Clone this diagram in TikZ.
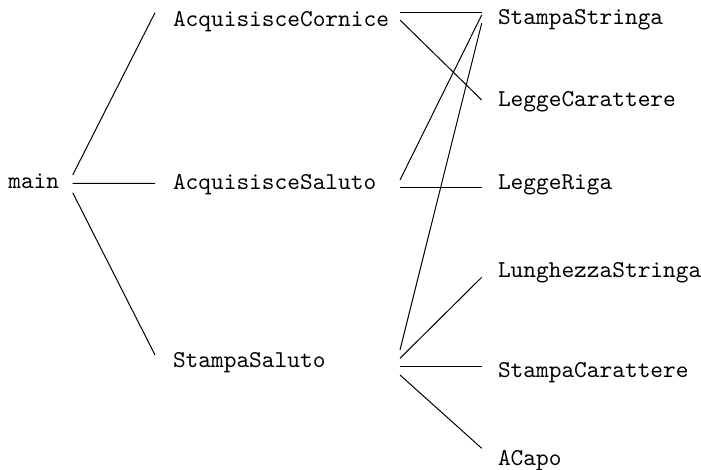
\documentclass[tikz,border=0pt]{standalone}
\usepackage{fontspec}
\usetikzlibrary{calc}
\newfontfamily\fnfont{lmmono10-regular.otf}
\begin{document}
\begin{tikzpicture}[x=0.5pt,y=-0.5pt,
  fn/.style={anchor=base west,inner sep=0pt,outer sep=0pt,
    font=\fontsize{12.1}{14}\fnfont},
  call/.style={line width=0.5pt,line cap=butt}]
\useasboundingbox (0,0) rectangle (701,470);

% functions, one column per call depth
\node[fn] (main)  at (8.3,189)   {main};
\node[fn] (acqc)  at (173,27)    {AcquisisceCornice};
\node[fn] (acqs)  at (173,189.4) {AcquisisceSaluto};
\node[fn] (stsal) at (173,367.7) {StampaSaluto};
\node[fn] (ststr) at (498,24.4)  {StampaStringa};
\node[fn] (lcar)  at (498,106.4) {LeggeCarattere};
\node[fn] (lriga) at (498,189.4) {LeggeRiga};
\node[fn] (lung)  at (498,278)   {LunghezzaStringa};
\node[fn] (stcar) at (498,377.7) {StampaCarattere};
\node[fn] (acapo) at (498,465)   {ACapo};

% calls made by main
\draw[call] ($(main.base west)+(64.4,-14)$)  -- ($(acqc.base west)+(-18,-14.3)$);
\draw[call] ($(main.base west)+(64.4,-5.7)$) -- ($(acqs.base west)+(-18,-6.1)$);
\draw[call] ($(main.base west)+(64.4,3.7)$)  -- ($(stsal.base west)+(-18,-12.7)$);

% calls made by AcquisisceCornice
\draw[call] ($(acqc.base west)+(227,-14.3)$) -- ($(ststr.base west)+(-16.3,-11.7)$);
\draw[call] ($(acqc.base west)+(227,-7)$)    -- ($(lcar.base west)+(-16.3,-6.4)$);

% calls made by AcquisisceSaluto
\draw[call] ($(acqs.base west)+(227,-9.4)$)  -- ($(ststr.base west)+(-16.3,-9.4)$);
\draw[call] ($(acqs.base west)+(227,-1.7)$)  -- ($(lriga.base west)+(-16.3,-1.7)$);

% calls made by StampaSaluto
\draw[call] ($(stsal.base west)+(227,-17.7)$) -- ($(ststr.base west)+(-16.3,-1.1)$);
\draw[call] ($(stsal.base west)+(227,-9.4)$)  -- ($(lung.base west)+(-16.3,-0.7)$);
\draw[call] ($(stsal.base west)+(227,-1)$)    -- ($(stcar.base west)+(-16.3,-11)$);
\draw[call] ($(stsal.base west)+(227,7.3)$)   -- ($(acapo.base west)+(-16.3,-16.7)$);
\end{tikzpicture}
\end{document}
